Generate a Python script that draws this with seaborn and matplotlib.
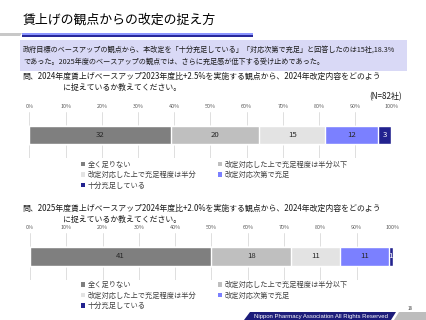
import matplotlib
matplotlib.use("Agg")
import matplotlib.pyplot as plt
from matplotlib.patches import Patch, Polygon, Rectangle
import seaborn as sns
import pandas as pd
import numpy as np

# ---------------- data ----------------
categories = ["全く足りない", "改定対応した上で充足程度は半分以下", "改定対応した上で充足程度は半分",
              "改定対応次第で充足", "十分充足している"]
counts_2024 = [32, 20, 15, 12, 3]
counts_2025 = [41, 18, 11, 11, 1]
colors = ["#7f7f7f", "#bfbfbf", "#e3e3e3", "#7b80ff", "#22228f"]
tick_labels = ["0%", "10%", "20%", "30%", "40%", "50%", "60%", "70%", "80%", "90%", "100%"]

title = "賃上げの観点からの改定の捉え方"
summary1 = "政府目標のベースアップの観点から、本改定を「十分充足している」「対応次第で充足」と回答したのは15社,18.3%"
summary2 = "であった。2025年度のベースアップの観点では、さらに充足感が低下する受け止めであった。"
q1_line1 = "問、2024年度賃上げベースアップ2023年度比+2.5%を実施する観点から、2024年改定内容をどのよう"
q1_line2 = "に捉えているか教えてください。"
q2_line1 = "問、2025年度賃上げベースアップ2024年度比+2.0%を実施する観点から、2024年改定内容をどのよう"
q2_line2 = "に捉えているか教えてください。"
n_label = "(N=82社)"
footer = "Nippon Pharmacy Association All Rights Reserved"
page = "18"

sns.set_theme(style="white")
plt.rcParams["font.family"] = ["Noto Sans CJK JP", "DejaVu Sans"]

W, H = 427, 320
fig = plt.figure(figsize=(W / 100, H / 100), dpi=100)
fig.patch.set_facecolor("white")


def fx(x):
    return x / W


def fy(y):
    return 1 - y / H


def axes_px(x0, y0, x1, y1):
    return fig.add_axes([fx(x0), fy(y1), (x1 - x0) / W, (y1 - y0) / H])


# ---- header decorations ----
bg = fig.add_axes([0, 0, 1, 1])
bg.set_xlim(0, W)
bg.set_ylim(H, 0)
bg.axis("off")
bg.add_patch(Polygon([[0, 33], [22, 33], [20, 36], [0, 36]], closed=True, color="#c8c8c8", lw=0))
bg.add_patch(Rectangle((22, 32.5), 231, 2, color="#8c96ff", lw=0))
bg.add_patch(Rectangle((22, 35), 231, 2.2, color="#28289a", lw=0))
bg.add_patch(Rectangle((20, 40), 387, 31, color="#d9d9f6", lw=0))
# footer
bg.add_patch(Polygon([[250, 312], [396, 312], [391, 320], [244, 320]], closed=True, color="#1c1c7a", lw=0))
bg.add_patch(Polygon([[399, 312], [427, 312], [427, 320], [394, 320]], closed=True, color="#bdbdbd", lw=0))
bg.text(321, 316.3, footer, fontsize=4.3, color="white", ha="center", va="center",
        family="Liberation Sans")
bg.text(410, 308, page, fontsize=3.2, color="#404040", ha="center", va="center")

fig.text(fx(23), fy(20), title, fontsize=9.3, color="#000000", ha="left", va="center")
fig.text(fx(23), fy(49.5), summary1, fontsize=5.15, color="#1a1a1a", ha="left", va="center")
fig.text(fx(23), fy(62), summary2, fontsize=5.15, color="#1a1a1a", ha="left", va="center")


def draw_block(counts, q1, q2, ty1, ty2, ax_box, leg_y):
    fig.text(fx(22), fy(ty1), q1, fontsize=5.7, color="#1a1a1a", ha="left", va="center")
    fig.text(fx(63), fy(ty2), q2, fontsize=5.7, color="#1a1a1a", ha="left", va="center")
    ax = axes_px(*ax_box)
    total = sum(counts)
    pct = np.array(counts) / total * 100
    cum = np.cumsum(pct)
    df = pd.DataFrame({"cat": categories, "cum": cum, "row": ["q"] * len(categories)})
    for i in range(len(categories) - 1, -1, -1):
        sub = df.iloc[[i]]
        sns.barplot(data=sub, x="cum", y="row", color=colors[i], width=0.4,
                    saturation=1, ax=ax, orient="h", zorder=3)
    for i in range(len(categories)):
        center = cum[i] - pct[i] / 2
        tc = "white" if i == 4 else "#262626"
        ax.text(center, 0, str(counts[i]), ha="center", va="center", fontsize=5.6,
                color=tc, zorder=5)
    ax.set_xlim(0, 100)
    ax.set_ylim(0.5, -0.5)
    ax.set_xticks(np.arange(0, 101, 10))
    ax.set_xticklabels(tick_labels)
    ax.xaxis.tick_top()
    ax.tick_params(axis="x", length=0, pad=2.2, labelsize=3.9, labelcolor="#595959")
    ax.set_yticks([])
    ax.set_xlabel("")
    ax.set_ylabel("")
    ax.grid(axis="x", color="#d9d9d9", lw=0.6, zorder=0)
    for s in ax.spines.values():
        s.set_visible(False)
    ax.set_facecolor("none")
    handles = [Patch(facecolor=c, edgecolor="none") for c in colors]
    order = [0, 2, 4, 1, 3]
    leg = fig.legend([handles[k] for k in order], [categories[k] for k in order],
                     loc="upper left", bbox_to_anchor=(fx(81), fy(leg_y)), ncol=2,
                     frameon=False, fontsize=5.2, handlelength=0.55, handleheight=0.55,
                     handletextpad=0.35, columnspacing=3.0, labelspacing=0.35,
                     borderaxespad=0, borderpad=0)
    for t in leg.get_texts():
        t.set_color("#404040")
    return ax


draw_block(counts_2024, q1_line1, q1_line2, 76, 87, (29.5, 112, 391.5, 157.5), 160.5)
fig.text(fx(402), fy(97), n_label, fontsize=5.8, color="#1a1a1a", ha="right", va="center")
draw_block(counts_2025, q2_line1, q2_line2, 208, 219, (30, 233, 393, 279.5), 281)

fig.savefig("out.png", dpi=100)
